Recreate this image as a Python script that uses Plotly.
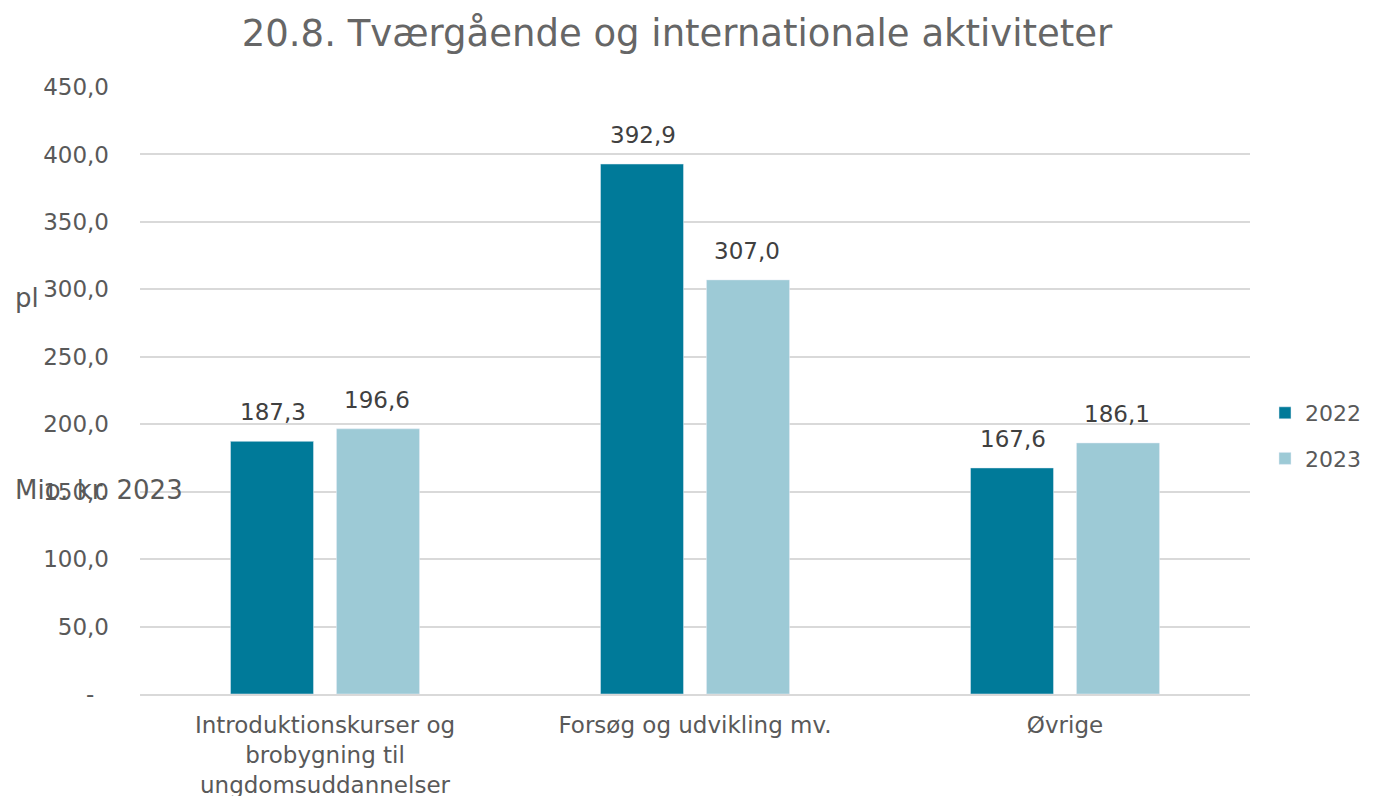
import plotly.graph_objects as go

categories = ["Introduktionskurser og<br>brobygning til<br>ungdomsuddannelser",
              "Forsøg og udvikling mv.", "Øvrige"]
series_names = ["2022", "2023"]
values_2022 = [187.3, 392.9, 167.6]
values_2023 = [196.6, 307.0, 186.1]
tick_vals = [0, 50, 100, 150, 200, 250, 300, 350, 400, 450]
tick_text = ["-\u00a0\u00a0", "50,0", "100,0", "150,0", "200,0", "250,0", "300,0", "350,0", "400,0", "450,0"]

FONT = "Verdana, DejaVu Sans, sans-serif"
OFF = 8  # page body margin

def fmt(v):
    return f"{v:.1f}".replace(".", ",")

fig = go.Figure()
colors = ["#007A99", "#9DCAD6"]
for name, vals, col, grp in zip(series_names, [values_2022, values_2023], colors, ["a", "b"]):
    fig.add_trace(go.Bar(name=name, x=categories, y=vals, marker_color=col, legendgroup=grp))

# value labels placed above bars via annotations (data coordinates)
for vals, xs in [(values_2022, -52), (values_2023, 52)]:
    for c, v in zip(categories, vals):
        fig.add_annotation(x=c, y=v, xref="x", yref="y", text=fmt(v), showarrow=False,
                           xshift=xs, yshift=14, yanchor="bottom",
                           font=dict(size=23, color="#404040", family=FONT))

L, R, T, B = 140 - OFF, 1373 - 1250 + OFF, 87 - OFF, 796 - 694 + OFF
fig.update_layout(
    width=1373, height=796,
    paper_bgcolor="white", plot_bgcolor="white",
    font=dict(family=FONT, color="#595959", size=23),
    title=dict(text="20.8. Tværgående og internationale aktiviteter", xref="paper",
               x=(677 - 140) / 1110, xanchor="center",
               yref="container", y=1 - (33 - OFF) / 796, yanchor="middle",
               font=dict(size=37, color="#666666", family=FONT)),
    margin=dict(l=L, r=R, t=T, b=B),
    barmode="group", bargap=0.427, bargroupgap=0.217,
    legend=dict(xref="container", yref="container", x=(1265 - OFF) / 1373,
                y=1 - (436 - OFF) / 796, xanchor="left", yanchor="middle",
                font=dict(size=22, color="#595959"), tracegroupgap=14, itemwidth=30),
    showlegend=True,
)
fig.update_yaxes(range=[0, 450], tickvals=tick_vals, ticktext=tick_text,
                 showgrid=True, gridcolor="#D9D9D9", gridwidth=1.5, zeroline=False,
                 tickfont=dict(size=23, color="#595959"), ticks="", ticklabelstandoff=30,
                 automargin=False)
fig.update_xaxes(showline=True, linecolor="#D9D9D9", linewidth=1.5,
                 tickfont=dict(size=23, color="#595959"), ticks="", ticklabelstandoff=10,
                 automargin=False)

fig.add_annotation(text="Mio. kr. 2023", xref="paper", yref="paper", x=(13 - 140) / 1110,
                   y=(694 - 490) / 607, xanchor="left", yanchor="middle", showarrow=False,
                   font=dict(size=26, color="#595959", family=FONT))
fig.add_annotation(text="pl", xref="paper", yref="paper", x=(13 - 140) / 1110,
                   y=(694 - 298) / 607, xanchor="left", yanchor="middle", showarrow=False,
                   font=dict(size=26, color="#595959", family=FONT))

fig.write_html("out.html")
